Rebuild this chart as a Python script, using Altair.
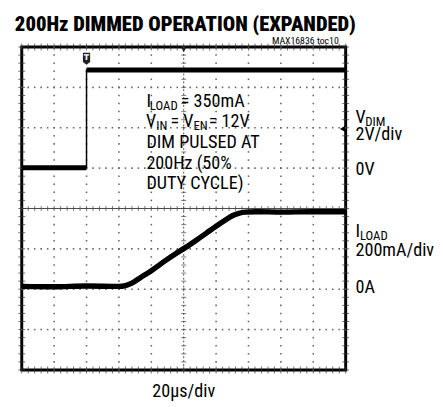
import altair as alt
import pandas as pd

# ---------------- text ----------------
TITLE = "200Hz DIMMED OPERATION (EXPANDED)"
FIG_ID = "MAX16836 toc10"
TIME_LABEL = "20µs/div"
CH1_NAME, CH1_SUB, CH1_SCALE, CH1_ZERO = "V", "DIM", "2V/div", "0V"
CH2_NAME, CH2_SUB, CH2_SCALE, CH2_ZERO = "I", "LOAD", "200mA/div", "0A"
NOTE_LINE3 = "DIM PULSED AT"
NOTE_LINE4 = "200Hz (50%"
NOTE_LINE5 = "DUTY CYCLE)"

# ---------------- data ----------------
# time in µs (20 µs/div, 10 divisions); levels in screen divisions (0 = bottom, 8 = top)
vdim_t = [0, 40, 40, 200]
vdim_div = [5.01, 5.01, 7.43, 7.43]

iload_t = [0, 20, 40, 60, 64, 68, 73, 80, 88, 95, 101, 108, 114, 120, 126, 130, 134, 138, 145, 160, 180, 200]
iload_div = [2.07, 2.06, 2.08, 2.07, 2.09, 2.15, 2.28, 2.46, 2.69, 2.88, 3.03, 3.22, 3.39, 3.56,
             3.72, 3.82, 3.88, 3.91, 3.92, 3.91, 3.92, 3.92]

x_major = list(range(0, 201, 20))
y_major = list(range(0, 9))

# ---------------- layout ----------------
W, H = 330, 329
OX, OY = 22, 44  # page position of plot origin
FONT = "Roboto Condensed, DejaVu Sans Condensed, sans-serif"
FS = 18.5

xs = alt.Scale(domain=[0, 200], nice=False, zero=False)
ys = alt.Scale(domain=[0, 8], nice=False, zero=False)
X = alt.X("t:Q", scale=xs, axis=None)
Y = alt.Y("v:Q", scale=ys, axis=None)

minor_x = [i * 4 for i in range(51)]
minor_y = [round(i * 0.2, 2) for i in range(41)]

dots = []
for xm in x_major[1:-1]:
    if xm == 100:
        continue
    for ym in minor_y:
        dots.append({"t": xm, "v": ym})
for ym in y_major[1:-1]:
    if ym == 4:
        continue
    for xm in minor_x:
        dots.append({"t": xm, "v": ym})
dots_df = pd.DataFrame(dots)

grid_dots = alt.Chart(dots_df).mark_square(size=2.5, color="#666", opacity=1).encode(x=X, y=Y)

# center cross
cx_df = pd.DataFrame({"t": minor_x, "v": [4] * len(minor_x)})
cy_df = pd.DataFrame({"t": [100] * len(minor_y), "v": minor_y})
hline = alt.Chart(pd.DataFrame({"t": [0], "t2": [200], "v": [4]})).mark_rule(
    color="#444", strokeWidth=1).encode(x=X, x2="t2:Q", y=Y)
vline = alt.Chart(pd.DataFrame({"t": [100], "v": [0], "v2": [8]})).mark_rule(
    color="#555", strokeWidth=1, strokeDash=[2, 2]).encode(x=X, y=Y, y2="v2:Q")
hticks = alt.Chart(cx_df).mark_tick(orient="vertical", size=5, thickness=1, color="#444").encode(x=X, y=Y)
vticks = alt.Chart(cy_df).mark_tick(orient="horizontal", size=5, thickness=1, color="#444").encode(x=X, y=Y)

# border ticks
bt = [{"t": m, "v": 0} for m in minor_x] + [{"t": m, "v": 8} for m in minor_x]
bv = [{"t": 0, "v": m} for m in minor_y] + [{"t": 200, "v": m} for m in minor_y]
bticks_x = alt.Chart(pd.DataFrame(bt)).mark_tick(orient="vertical", size=7, thickness=1, color="#333").encode(x=X, y=Y)
bticks_y = alt.Chart(pd.DataFrame(bv)).mark_tick(orient="horizontal", size=7, thickness=1, color="#333").encode(x=X, y=Y)

# traces
vdim_df = pd.DataFrame({"t": vdim_t, "v": vdim_div, "o": range(len(vdim_t))})
vdim_seg = pd.DataFrame({"t": vdim_t, "v": vdim_div, "seg": ["low", "low", "high", "high"]})
vdim_thin = alt.Chart(vdim_df).mark_line(color="black", strokeWidth=1.5).encode(x=X, y=Y, order="o:Q")
vdim_thick = alt.Chart(vdim_seg).mark_line(color="black", strokeWidth=5).encode(x=X, y=Y, detail="seg:N")

iload_df = pd.DataFrame({"t": iload_t, "v": iload_div})
iload = alt.Chart(iload_df).mark_line(color="black", strokeWidth=5.5, interpolate="monotone").encode(x=X, y=Y)

# markers
one = pd.DataFrame({"a": [0]})
trig = alt.Chart(pd.DataFrame({"t": [40], "v": [7.71]})).mark_point(
    shape="M-0.6,-1L0.6,-1L0.6,0.55L0,1L-0.6,0.55Z", size=150, filled=True, color="#222", opacity=1).encode(x=X, y=Y)
trig_t = alt.Chart(pd.DataFrame({"t": [40], "v": [7.71]})).mark_text(
    text="T", color="white", fontSize=8, fontWeight="bold", font="DejaVu Sans", baseline="middle", dy=-1).encode(x=X, y=Y)
topmark = alt.Chart(pd.DataFrame({"t": [100], "v": [7.93]})).mark_point(
    shape="triangle-down", size=25, filled=True, color="#222", opacity=1).encode(x=X, y=Y)
rmark = alt.Chart(pd.DataFrame({"t": [198.0], "v": [5.97]})).mark_point(
    shape="triangle-left", size=35, filled=True, color="black", opacity=1).encode(x=X, y=Y)


def label(text, px, py, size=FS, weight="normal", align="left", font=FONT):
    return alt.Chart(one).mark_text(
        font=font, fontSize=size, fontWeight=weight, align=align, baseline="alphabetic", color="black"
    ).encode(x=alt.value(px - OX), y=alt.value(py - OY), text=alt.value(text))


labels = [
    label(TITLE, 15, 28, size=21, weight=900),
    label(FIG_ID, 345, 41, size=10, align="right"),
    label(TIME_LABEL, 187, 401, align="center"),
    # note block
    label("I", 149, 105), label("LOAD", 152.5, 108, size=13), label("= 350mA", 184, 105),
    label("V", 148.5, 126), label("IN", 159, 129, size=13), label("= V", 173.5, 126),
    label("EN", 197, 129, size=13), label("= 12V", 212.5, 126),
    label(NOTE_LINE3, 149, 147), label(NOTE_LINE4, 149, 168), label(NOTE_LINE5, 149, 189),
    # right labels
    label(CH1_NAME, 362, 121), label(CH1_SUB, 372, 124, size=13), label(CH1_SCALE, 362, 139),
    label(CH1_ZERO, 362, 174),
    label(CH2_NAME, 362, 238), label(CH2_SUB, 366.5, 241, size=13), label(CH2_SCALE, 362, 257),
    label(CH2_ZERO, 362, 295),
]

chart = alt.layer(
    grid_dots, hline, vline, hticks, vticks, bticks_x, bticks_y,
    vdim_thin, vdim_thick, iload, trig, trig_t, topmark, rmark, *labels
).properties(
    width=W, height=H, autosize="none",
    padding={"left": 14, "top": 36, "right": 91, "bottom": 34},
    background="white",
).configure_view(stroke="black", strokeWidth=3)

chart.save("out.html", embed_options={"renderer": "svg", "actions": False})
